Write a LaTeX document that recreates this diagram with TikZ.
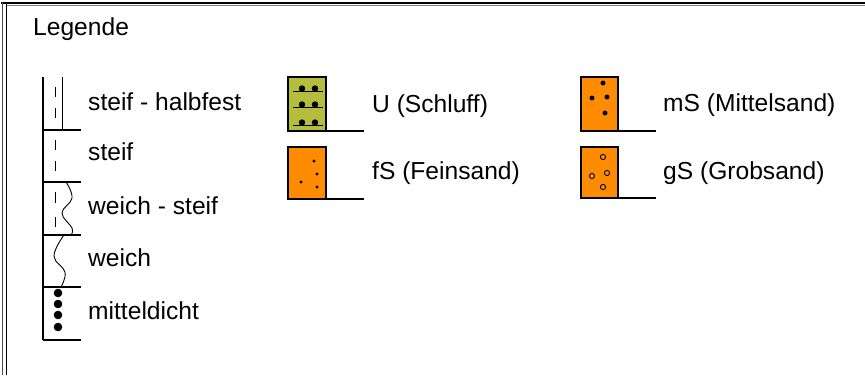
\documentclass[tikz,border=0pt]{standalone}
\usepackage{fontspec}
\setmainfont{Liberation Sans}
\definecolor{olivefill}{RGB}{180,190,60}
\definecolor{sandfill}{RGB}{255,140,0}
\begin{document}
\begin{tikzpicture}[x=1pt,y=-1pt,
  lbl/.style={anchor=base west,inner sep=0pt,font=\fontsize{24.6}{28}\selectfont},
  col/.style={line width=1.4pt},
  box/.style={draw=black,line width=1.4pt},
  dashv/.style={line width=0.9pt,dash pattern=on 10pt off 11pt},
  wave/.style={line width=0.9pt},
  odot/.style={draw=black,line width=0.9pt}]
\useasboundingbox (0,0) rectangle (865,375);
% frame
\draw[line width=2pt] (1,3) -- (865,3);
\draw[line width=0.8pt,gray] (7,5) -- (865,5);
\draw[line width=1pt,black!70] (2,2) -- (2,375);
\draw[line width=1.2pt] (6.5,4) -- (6.5,375);
\node[lbl] (title) at (33,35) {Legende};
% consistency column
\draw[col] (43,77) -- (43,340);
\foreach \yy in {130,182,235,287,340} \draw[col] (43,\yy) -- (81,\yy);
% steif - halbfest
\draw[dashv] (55,87) -- (55,118);
\draw[line width=0.9pt] (62,77) -- (62,130);
% steif
\draw[dashv] (55,140) -- (55,177);
% weich - steif
\draw[dashv,dash pattern=on 11pt off 14pt] (55,192) -- (55,227);
\draw[wave] plot[smooth,tension=0.7] coordinates {(66,182) (72,198) (62,213) (72,228) (71,235)};
% weich
\draw[wave] plot[smooth,tension=0.7] coordinates {(64,235) (54,256) (65,272) (61,287)};
% mitteldicht
\foreach \yy in {293,304,315,327} \fill (58,\yy) circle (4.3);
\node[lbl] (l1) at (88,110) {steif - halbfest};
\node[lbl] (l2) at (88,160) {steif};
\node[lbl] (l3) at (88,214) {weich - steif};
\node[lbl] (l4) at (88,266) {weich};
\node[lbl] (l5) at (88,319) {mitteldicht};
% U (Schluff)
\draw[box,fill=olivefill] (288,77) rectangle (326,131);
\draw[col] (326,131) -- (364,131);
\foreach \yy in {91,107,125} {
  \draw[line width=1pt] (293,\yy) -- (323,\yy);
  \fill (302,\yy-2.5) circle (3.2);
  \fill (315,\yy-2.5) circle (3.2);
}
\node[lbl] (u) at (372,112) {U (Schluff)};
% fS
\draw[box,fill=sandfill] (288,147) rectangle (326,199);
\draw[col] (326,199) -- (364,199);
\foreach \p in {(314,161),(317,174),(301,182),(317,187)} \fill \p circle (1.7);
\node[lbl] (fs) at (372,179) {fS (Feinsand)};
% mS
\draw[box,fill=sandfill] (581,77) rectangle (618,131);
\draw[col] (618,131) -- (656,131);
\foreach \p in {(603,83),(592,98),(607,97),(605,113)} \draw[odot,fill=black] \p circle (2);
\node[lbl] (ms) at (663,111) {mS (Mittelsand)};
% gS
\draw[box,fill=sandfill] (581,147) rectangle (618,198);
\draw[col] (618,198) -- (656,198);
\foreach \p in {(603,157),(592,176),(607,173),(603,187)} \draw[odot] \p circle (2.6);
\node[lbl] (gs) at (663,179) {gS (Grobsand)};
\end{tikzpicture}
\end{document}
